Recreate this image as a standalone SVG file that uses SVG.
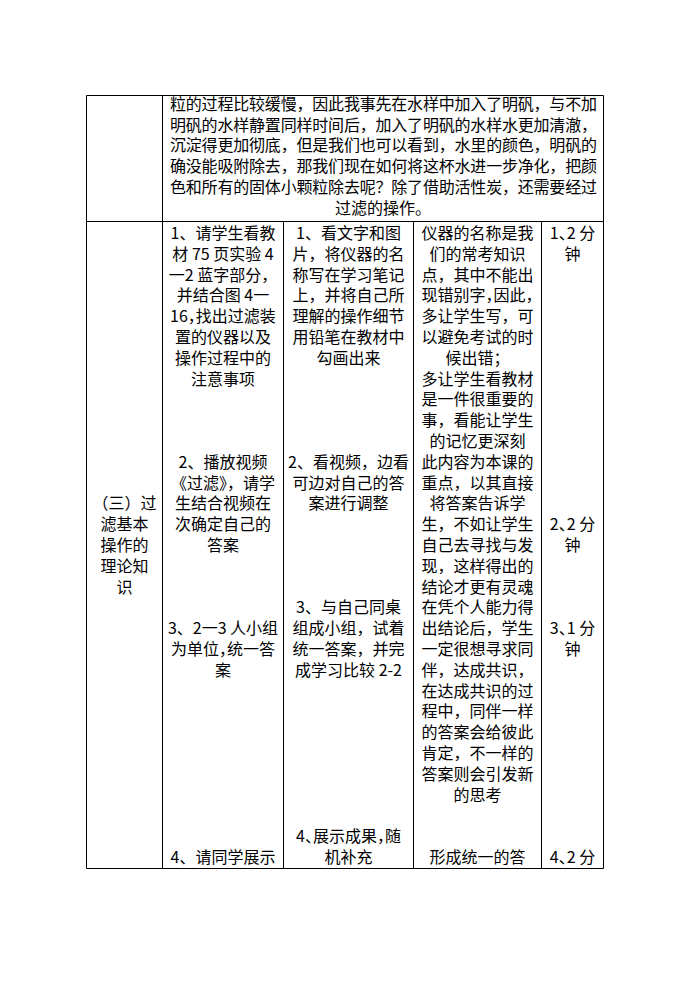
<svg xmlns="http://www.w3.org/2000/svg" width="695" height="983" viewBox="0 0 695 983">
<style>
text{font-family:"Noto Sans CJK SC","Noto Sans CJK JP",sans-serif;font-size:16px;fill:#000}
.c{text-anchor:middle}
.h{font-feature-settings:"halt"}
.ln{stroke:#000;stroke-width:1;fill:none}
</style>
<rect width="695" height="983" fill="#fff"/>
<g id="grid">
<path class="ln" d="M86.5 95.5H603.5V868.5H86.5Z M162.5 95.5V868.5 M86.5 221.5H603.5 M283.5 221.5V868.5 M413.5 221.5V868.5 M541.5 221.5V868.5"/>
</g>
<g id="row1">
<text x="170" y="110"><tspan x="170" y="110" textLength="427" lengthAdjust="spacing">粒的过程比较缓慢，因此我事先在水样中加入了明矾，与不加</tspan><tspan x="170" y="130.7" textLength="427" lengthAdjust="spacing">明矾的水样静置同样时间后，加入了明矾的水样水更加清澈，</tspan><tspan x="170" y="151.4" textLength="427" lengthAdjust="spacing">沉淀得更加彻底，但是我们也可以看到，水里的颜色，明矾的</tspan><tspan x="170" y="172.1" textLength="427" lengthAdjust="spacing">确没能吸附除去，那我们现在如何将这杯水进一步净化，把颜</tspan><tspan x="170" y="192.8" textLength="427" lengthAdjust="spacing">色和所有的固体小颗粒除去呢？除了借助活性炭，还需要经过</tspan><tspan x="383" y="213.5" class="c">过滤的操作。</tspan></text>
</g>
<g id="col1">
<text class="c"><tspan x="124.5" y="509.4">（三）过</tspan><tspan x="124.5" y="530.2">滤基本</tspan><tspan x="124.5" y="551">操作的</tspan><tspan x="124.5" y="571.8">理论知</tspan><tspan x="124.5" y="592.6">识</tspan></text>
</g>
<g id="col2">
<text class="c"><tspan x="223" y="239">1、请学生看教</tspan><tspan x="223" y="259.8">材 75 页实验 4</tspan><tspan x="223" y="280.6">一2 蓝字部分，</tspan><tspan x="223" y="301.4">并结合图 4一</tspan><tspan x="223" y="322.2" class="h">16，找出过滤装</tspan><tspan x="223" y="343">置的仪器以及</tspan><tspan x="223" y="363.8">操作过程中的</tspan><tspan x="223" y="384.6">注意事项</tspan></text>
<text class="c"><tspan x="223" y="467.8">2、播放视频</tspan><tspan x="223" y="488.6">《过滤》，请学</tspan><tspan x="223" y="509.4">生结合视频在</tspan><tspan x="223" y="530.2">次确定自己的</tspan><tspan x="223" y="551">答案</tspan></text>
<text class="c"><tspan x="223" y="634.2">3、2一3 人小组</tspan><tspan x="223" y="655" class="h">为单位，统一答</tspan><tspan x="223" y="675.8">案</tspan></text>
<text class="c"><tspan x="223" y="863">4、请同学展示</tspan></text>
</g>
<g id="col3">
<text class="c"><tspan x="348.5" y="239">1、看文字和图</tspan><tspan x="348.5" y="259.8">片，将仪器的名</tspan><tspan x="348.5" y="280.6">称写在学习笔记</tspan><tspan x="348.5" y="301.4">上，并将自己所</tspan><tspan x="348.5" y="322.2">理解的操作细节</tspan><tspan x="348.5" y="343">用铅笔在教材中</tspan><tspan x="348.5" y="363.8">勾画出来</tspan></text>
<text class="c"><tspan x="348.5" y="467.8">2、看视频，边看</tspan><tspan x="348.5" y="488.6">可边对自己的答</tspan><tspan x="348.5" y="509.4">案进行调整</tspan></text>
<text class="c"><tspan x="348.5" y="613.4">3、与自己同桌</tspan><tspan x="348.5" y="634.2">组成小组，试着</tspan><tspan x="348.5" y="655">统一答案，并完</tspan><tspan x="348.5" y="675.8">成学习比较 2-2</tspan></text>
<text class="c"><tspan x="348.5" y="842.2" class="h">4、展示成果，随</tspan><tspan x="348.5" y="863">机补充</tspan></text>
</g>
<g id="col4">
<text class="c"><tspan x="477.5" y="239">仪器的名称是我</tspan><tspan x="477.5" y="259.8">们的常考知识</tspan><tspan x="477.5" y="280.6">点，其中不能出</tspan><tspan x="477.5" y="301.4" class="h">现错别字，因此，</tspan><tspan x="477.5" y="322.2">多让学生写，可</tspan><tspan x="477.5" y="343">以避免考试的时</tspan><tspan x="477.5" y="363.8">候出错；</tspan><tspan x="477.5" y="384.6">多让学生看教材</tspan><tspan x="477.5" y="405.4">是一件很重要的</tspan><tspan x="477.5" y="426.2">事，看能让学生</tspan><tspan x="477.5" y="447">的记忆更深刻</tspan><tspan x="477.5" y="467.8">此内容为本课的</tspan><tspan x="477.5" y="488.6">重点，以其直接</tspan><tspan x="477.5" y="509.4">将答案告诉学</tspan><tspan x="477.5" y="530.2">生，不如让学生</tspan><tspan x="477.5" y="551">自己去寻找与发</tspan><tspan x="477.5" y="571.8">现，这样得出的</tspan><tspan x="477.5" y="592.6">结论才更有灵魂</tspan><tspan x="477.5" y="613.4">在凭个人能力得</tspan><tspan x="477.5" y="634.2">出结论后，学生</tspan><tspan x="477.5" y="655">一定很想寻求同</tspan><tspan x="477.5" y="675.8">伴，达成共识，</tspan><tspan x="477.5" y="696.6">在达成共识的过</tspan><tspan x="477.5" y="717.4">程中，同伴一样</tspan><tspan x="477.5" y="738.2">的答案会给彼此</tspan><tspan x="477.5" y="759">肯定，不一样的</tspan><tspan x="477.5" y="779.8">答案则会引发新</tspan><tspan x="477.5" y="800.6">的思考</tspan></text>
<text class="c"><tspan x="477.5" y="863">形成统一的答</tspan></text>
</g>
<g id="col5">
<text class="c"><tspan x="572.5" y="239" class="h">1、2 分</tspan><tspan x="572.5" y="259.8">钟</tspan></text>
<text class="c"><tspan x="572.5" y="530.2" class="h">2、2 分</tspan><tspan x="572.5" y="551">钟</tspan></text>
<text class="c"><tspan x="572.5" y="634.2" class="h">3、1 分</tspan><tspan x="572.5" y="655">钟</tspan></text>
<text class="c"><tspan x="572.5" y="863" class="h">4、2 分</tspan></text>
</g>
</svg>
